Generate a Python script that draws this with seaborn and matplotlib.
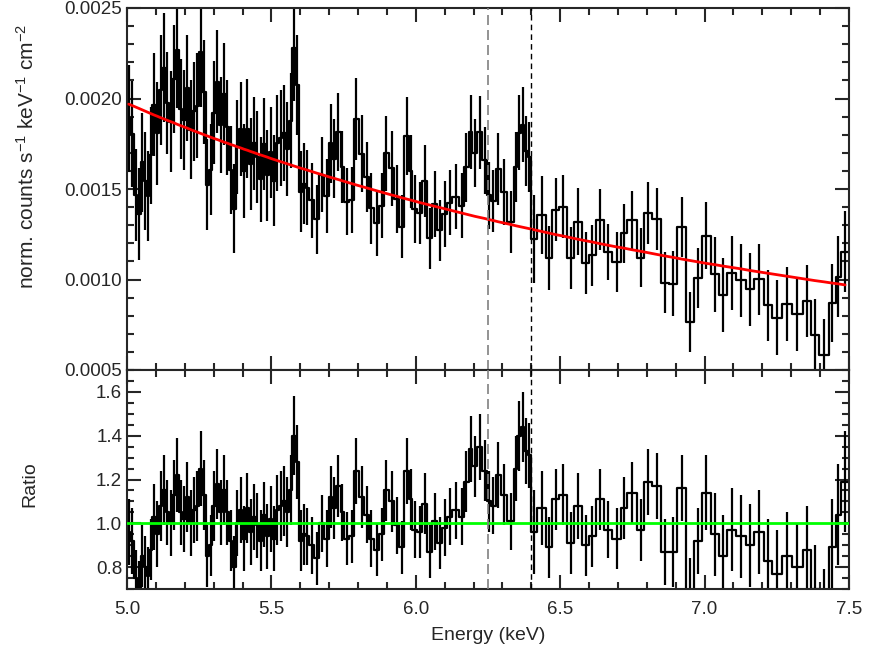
import numpy as np
import pandas as pd
import matplotlib
matplotlib.use("Agg")
import matplotlib.pyplot as plt
from matplotlib.ticker import MultipleLocator, FormatStrFormatter
import seaborn as sns

# Spectral bin edges (keV)
energy_edges = [
    5.000, 5.012, 5.024, 5.036, 5.047, 5.059, 5.068, 5.076, 5.088, 5.099,
    5.111, 5.122, 5.134, 5.146, 5.157, 5.169, 5.180, 5.192, 5.203, 5.215,
    5.226, 5.238, 5.250, 5.261, 5.273, 5.284, 5.296, 5.307, 5.319, 5.330,
    5.342, 5.353, 5.365, 5.376, 5.388, 5.399, 5.411, 5.423, 5.434, 5.446,
    5.457, 5.469, 5.480, 5.492, 5.503, 5.515, 5.526, 5.538, 5.550, 5.561,
    5.573, 5.584, 5.596, 5.607, 5.619,
    5.630, 5.648, 5.665, 5.682, 5.700, 5.711, 5.723, 5.740, 5.752, 5.769,
    5.786, 5.803, 5.821, 5.838, 5.855, 5.873, 5.890, 5.907, 5.925, 5.942,
    5.959, 5.977, 5.988, 6.005, 6.023, 6.040, 6.057, 6.075, 6.092, 6.109,
    6.127, 6.150, 6.167, 6.184, 6.196, 6.213, 6.230, 6.248,
    6.259, 6.277, 6.294, 6.317, 6.340, 6.352, 6.364, 6.375, 6.387, 6.398,
    6.421, 6.450, 6.473, 6.496, 6.525, 6.548, 6.577, 6.600, 6.623, 6.652,
    6.681, 6.710, 6.733, 6.767, 6.790, 6.819, 6.848, 6.877, 6.906, 6.935,
    6.963, 6.992, 7.021, 7.050, 7.079, 7.108, 7.142, 7.171, 7.206, 7.235,
    7.269, 7.304, 7.339, 7.367, 7.396, 7.431, 7.454, 7.471, 7.502,
]

# Data / model ratio per bin
ratio = [
    0.96, 0.92, 0.75, 0.70, 0.85, 0.80, 0.76, 0.88, 1.03, 0.95,
    1.08, 1.15, 1.05, 1.00, 1.13, 1.22, 1.05, 1.02, 1.12, 1.00,
    1.06, 1.08, 1.25, 1.13, 0.85, 0.90, 1.08, 1.18, 1.05, 1.15,
    1.05, 0.92, 0.80, 1.00, 1.06, 0.93, 1.07, 0.96, 1.03, 0.99,
    0.92, 1.04, 0.94, 1.02, 0.93, 1.06, 1.08, 1.10, 1.05, 1.15,
    1.40, 1.28, 0.92, 0.95,
    0.94, 0.90, 0.84, 1.00, 0.93, 1.12, 1.07, 1.17, 1.05, 0.93,
    0.94, 1.24, 1.12, 1.04, 0.93, 0.88, 0.95, 1.15, 1.10, 0.99,
    0.89, 1.24, 1.11, 0.97, 0.96, 1.09, 0.87, 1.01, 0.91, 0.98,
    1.03, 1.06, 1.03, 1.19, 1.34, 1.26, 1.35, 1.24,
    1.10, 1.08, 1.22, 1.13, 1.01, 1.25, 1.40, 1.44, 1.33, 1.31,
    0.96, 1.07, 0.89, 1.11, 1.13, 0.91, 1.08, 0.90, 0.94, 1.11,
    0.97, 0.93, 1.07, 1.14, 0.97, 1.19, 1.17, 0.87, 0.87, 1.16,
    0.69, 0.92, 1.14, 0.95, 0.85, 0.97, 0.94, 0.90, 0.96, 0.83,
    0.77, 0.85, 0.80, 0.88, 0.70, 0.59, 0.89, 1.04, 1.19,
]

# 1-sigma uncertainty on the ratio
ratio_err = [
    0.15, 0.15, 0.13, 0.13, 0.14, 0.14, 0.13, 0.14, 0.15, 0.15,
    0.16, 0.16, 0.15, 0.15, 0.16, 0.17, 0.15, 0.15, 0.16, 0.15,
    0.15, 0.16, 0.17, 0.16, 0.14, 0.14, 0.16, 0.16, 0.15, 0.16,
    0.15, 0.14, 0.14, 0.15, 0.15, 0.15, 0.16, 0.15, 0.15, 0.15,
    0.14, 0.15, 0.15, 0.15, 0.15, 0.16, 0.16, 0.16, 0.16, 0.16,
    0.18, 0.17, 0.14, 0.14,
    0.13, 0.13, 0.12, 0.13, 0.13, 0.14, 0.14, 0.14, 0.13, 0.12,
    0.12, 0.15, 0.14, 0.13, 0.13, 0.12, 0.12, 0.14, 0.14, 0.13,
    0.12, 0.15, 0.14, 0.13, 0.12, 0.14, 0.12, 0.13, 0.12, 0.13,
    0.13, 0.13, 0.13, 0.14, 0.15, 0.14, 0.15, 0.14,
    0.14, 0.13, 0.15, 0.14, 0.13, 0.15, 0.16, 0.16, 0.15, 0.15,
    0.19, 0.17, 0.14, 0.14, 0.14, 0.14, 0.15, 0.14, 0.14, 0.14,
    0.13, 0.14, 0.14, 0.14, 0.14, 0.15, 0.15, 0.15, 0.16, 0.15,
    0.15, 0.15, 0.17, 0.19, 0.19, 0.19, 0.19, 0.19, 0.19, 0.19,
    0.20, 0.20, 0.20, 0.20, 0.20, 0.20, 0.22, 0.23, 0.23,
]

# Continuum model at each bin centre (1e-3 counts s^-1 keV^-1 cm^-2)
model_flux_1e3 = [
    1.969, 1.961, 1.953, 1.945, 1.937, 1.930, 1.924, 1.917, 1.909, 1.902,
    1.894, 1.887, 1.879, 1.872, 1.865, 1.857, 1.850, 1.843, 1.836, 1.828,
    1.821, 1.814, 1.807, 1.800, 1.793, 1.786, 1.779, 1.773, 1.766, 1.759,
    1.753, 1.746, 1.740, 1.733, 1.727, 1.720, 1.714, 1.707, 1.701, 1.694,
    1.688, 1.682, 1.676, 1.669, 1.663, 1.657, 1.651, 1.645, 1.639, 1.633,
    1.627, 1.621, 1.615, 1.610,
    1.604, 1.597, 1.588, 1.580, 1.571, 1.564, 1.559, 1.552, 1.545, 1.538,
    1.530, 1.522, 1.514, 1.506, 1.498, 1.490, 1.482, 1.475, 1.467, 1.460,
    1.452, 1.445, 1.439, 1.433, 1.425, 1.418, 1.411, 1.404, 1.397, 1.390,
    1.383, 1.375, 1.367, 1.361, 1.355, 1.349, 1.343, 1.337,
    1.331, 1.326, 1.319, 1.312, 1.304, 1.297, 1.293, 1.289, 1.285, 1.281,
    1.275, 1.266, 1.257, 1.248, 1.240, 1.231, 1.222, 1.214, 1.207, 1.198,
    1.189, 1.180, 1.173, 1.164, 1.156, 1.148, 1.139, 1.130, 1.122, 1.113,
    1.105, 1.097, 1.089, 1.082, 1.074, 1.067, 1.059, 1.050, 1.042, 1.034,
    1.026, 1.017, 1.009, 1.001, 0.994, 0.987, 0.980, 0.976, 0.970,
]

# Marked line energies (keV)
line_energies = [6.25, 6.40]

# ---------------------------------------------------------------------------
edges = np.array(energy_edges)
centers = 0.5 * (edges[:-1] + edges[1:])
ratio_a = np.array(ratio)
ratio_e = np.array(ratio_err)
model = np.array(model_flux_1e3) * 1e-3
flux = ratio_a * model
flux_err = ratio_e * model

steps = pd.DataFrame({
    "energy": edges,
    "flux": np.r_[flux, flux[-1]],
    "ratio": np.r_[ratio_a, ratio_a[-1]],
})
curve = pd.DataFrame({"energy": centers, "model": model})

sns.set_style("ticks")
plt.rcParams["font.family"] = ["Liberation Sans", "DejaVu Sans"]
plt.rcParams["mathtext.fontset"] = "custom"
plt.rcParams["mathtext.rm"] = "Liberation Sans"
plt.rcParams["mathtext.it"] = "Liberation Sans"
plt.rcParams["font.size"] = 13.5

W, H = 869, 650
fig = plt.figure(figsize=(W / 100, H / 100), dpi=100)
left, right = 127, 849
ax1 = fig.add_axes([left / W, 1 - 370 / H, (right - left) / W, 362 / H])
ax2 = fig.add_axes([left / W, 1 - 589 / H, (right - left) / W, 219 / H], sharex=ax1)

lw = 1.6

# Upper panel: binned spectrum with errors and continuum model
sns.lineplot(data=steps, x="energy", y="flux", drawstyle="steps-post",
             color="black", lw=lw, estimator=None, sort=False,
             legend=False, ax=ax1)
ax1.errorbar(centers, flux, yerr=flux_err, fmt="none", ecolor="black",
             elinewidth=lw, capsize=0)
sns.lineplot(data=curve, x="energy", y="model", color="#ff0000", lw=2.0,
             estimator=None, sort=False, legend=False, ax=ax1, zorder=5)

# Lower panel: data/model ratio
sns.lineplot(data=steps, x="energy", y="ratio", drawstyle="steps-post",
             color="black", lw=lw, estimator=None, sort=False,
             legend=False, ax=ax2)
ax2.errorbar(centers, ratio_a, yerr=ratio_e, fmt="none", ecolor="black",
             elinewidth=lw, capsize=0)
ax2.axhline(1.0, color="#00ff00", lw=2.0, zorder=5)

for ax in (ax1, ax2):
    ax.axvline(line_energies[0], color="0.5", lw=1.2, dashes=(6, 3), zorder=6)
    ax.axvline(line_energies[1], color="black", lw=1.0, dashes=(4, 3), zorder=6)
    ax.tick_params(which="both", direction="in", top=True, right=True,
                   width=1.5, labelsize=13.5)
    ax.tick_params(which="major", length=10)
    ax.tick_params(which="minor", length=5)
    for sp in ax.spines.values():
        sp.set_linewidth(1.5)
    ax.xaxis.set_major_locator(MultipleLocator(0.5))
    ax.xaxis.set_minor_locator(MultipleLocator(0.1))

ax1.set_xlim(5.0, 7.5)
ax1.set_ylim(0.0005, 0.0025)
ax1.yaxis.set_major_locator(MultipleLocator(0.0005))
ax1.yaxis.set_minor_locator(MultipleLocator(0.0001))
ax1.yaxis.set_major_formatter(FormatStrFormatter("%.4f"))
ax1.tick_params(axis="x", labelbottom=False)
ax1.set_xlabel("")
ax1.set_ylabel(r"norm. counts s$^{-1}$ keV$^{-1}$ cm$^{-2}$", fontsize=15)
ax1.yaxis.set_label_coords(-0.123, 0.59)

ax2.set_ylim(0.7, 1.7)
ax2.yaxis.set_major_locator(MultipleLocator(0.2))
ax2.yaxis.set_minor_locator(MultipleLocator(0.05))
ax2.yaxis.set_major_formatter(FormatStrFormatter("%.1f"))
ax2.xaxis.set_major_formatter(FormatStrFormatter("%.1f"))
ax2.tick_params(axis="x", pad=9)
ax2.set_xlabel("Energy (keV)", fontsize=14, labelpad=6)
ax2.set_ylabel("Ratio", fontsize=14)
ax2.yaxis.set_label_coords(-0.123, 0.48)

fig.savefig("out.png", dpi=100)
